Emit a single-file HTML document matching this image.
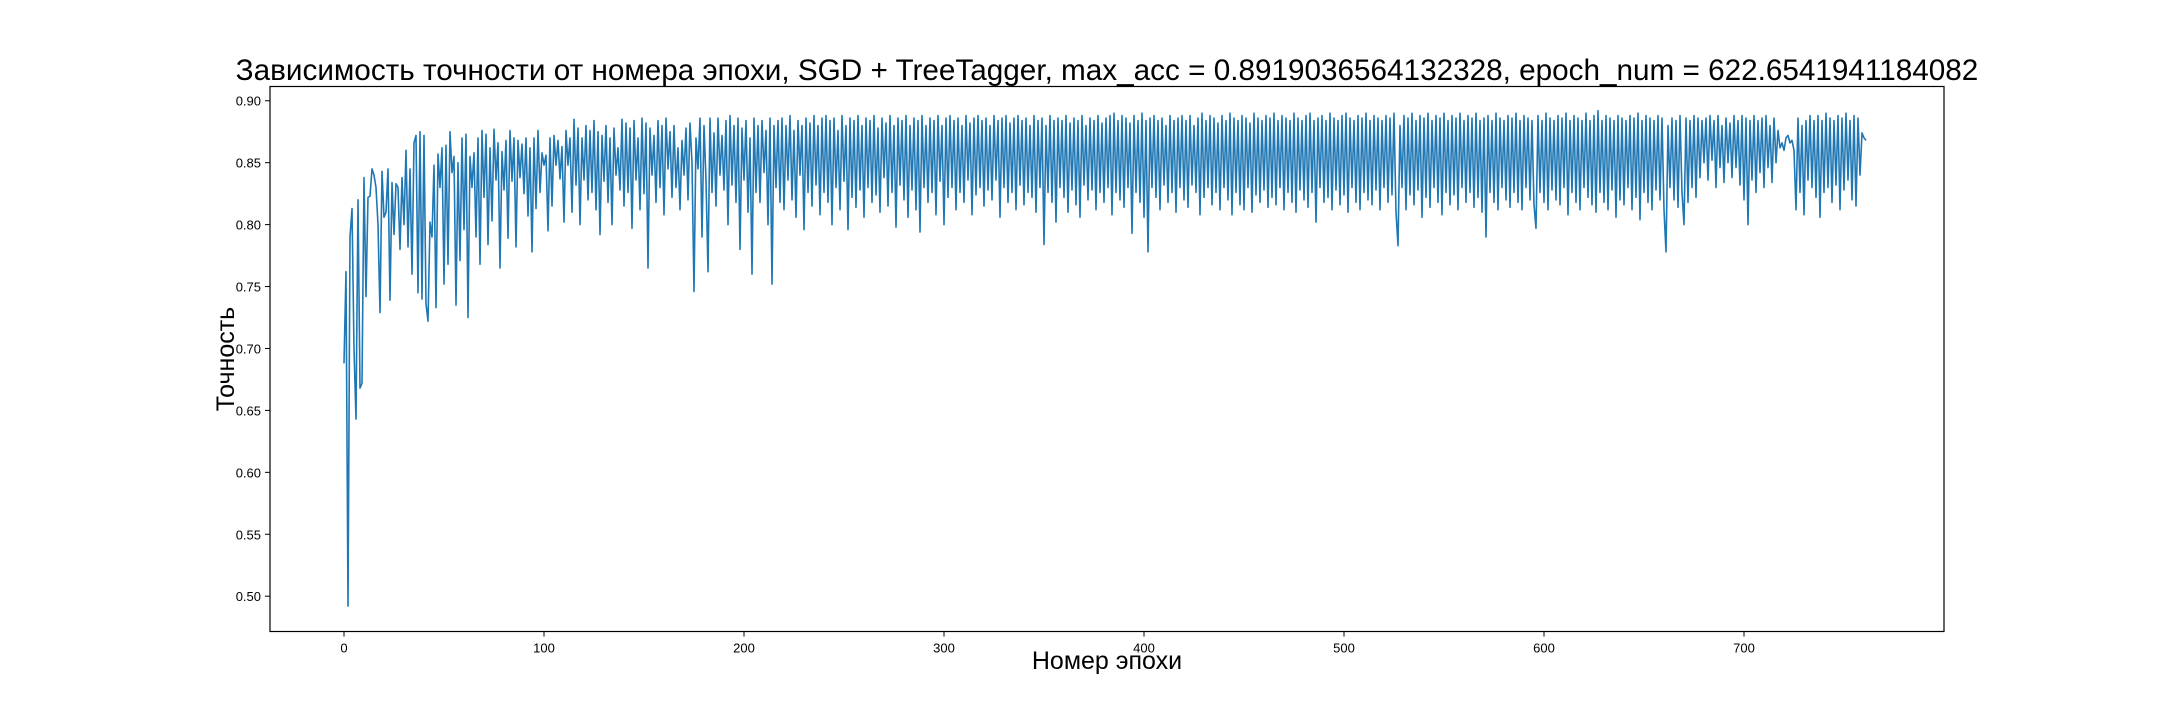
<!DOCTYPE html>
<html><head><meta charset="utf-8"><style>
body{margin:0;background:#fff;width:2160px;height:720px;overflow:hidden}
svg{font-family:"Liberation Sans","DejaVu Sans",sans-serif}
</style></head><body>
<svg id="chart" width="2160" height="720" viewBox="0 0 2160 720" xmlns="http://www.w3.org/2000/svg">
<rect width="2160" height="720" fill="#fff"/>
<text x="1107" y="80" font-size="29.7" text-anchor="middle" fill="#000">Зависимость точности от номера эпохи, SGD + TreeTagger, max_acc = 0.8919036564132328, epoch_num = 622.6541941184082</text>
<g id="plot"></g>
<rect x="270" y="86.5" width="1674" height="545" fill="none" stroke="#000" stroke-width="1.2"/>
<text x="1107" y="669" font-size="25" text-anchor="middle">Номер эпохи</text>
<text transform="translate(234,359) rotate(-90)" font-size="25" text-anchor="middle">Точность</text>
</svg>
<script>
const xTicks=[0,100,200,300,400,500,600,700];
const yTicks=[0.50,0.55,0.60,0.65,0.70,0.75,0.80,0.85,0.90];
const accRaw="688,762,492,790,813,700,643,820,668,672,838,742,822,823,845,840,830,800,729,843,806,810,845,739,834,792,833,830,780,838,800,860,782,845,760,866,872,745,875,740,872,736,722,802,790,848,733,857,830,862,752,864,768,875,842,855,735,850,771,870,796,873,725,855,830,858,790,870,768,876,822,873,784,862,803,877,836,866,765,859,828,868,789,876,835,870,782,868,838,865,825,870,807,862,778,870,813,876,826,858,848,856,795,870,815,872,848,868,837,863,802,876,848,870,810,885,832,878,800,870,836,880,820,876,826,884,812,875,792,872,835,880,818,870,800,878,840,862,828,885,815,882,826,878,797,884,836,870,812,886,825,882,765,878,840,872,818,884,830,880,808,886,845,875,822,880,830,862,812,868,840,878,820,882,850,746,870,845,886,790,880,836,762,886,826,874,815,886,840,872,828,884,800,888,832,880,818,886,780,878,836,884,810,870,760,886,826,880,818,884,842,876,800,886,752,880,830,884,818,886,812,880,836,888,820,876,806,884,840,880,796,886,826,882,815,888,832,880,808,886,826,888,818,884,800,886,830,876,812,888,835,880,796,886,822,884,814,888,828,880,806,886,830,884,818,888,824,878,810,886,838,882,815,888,826,880,798,886,832,884,820,888,806,880,828,886,812,884,794,888,830,880,818,886,826,884,808,888,835,880,800,886,822,888,830,884,812,886,826,880,818,888,836,882,808,886,824,888,830,884,815,886,828,880,820,888,836,884,806,886,830,888,818,882,826,886,812,888,832,884,816,886,826,880,822,888,810,884,830,886,784,880,826,888,818,884,802,886,830,884,822,888,810,882,828,886,816,884,806,888,832,880,820,886,828,884,812,888,826,882,818,886,830,888,808,890,826,884,820,888,814,886,830,882,793,888,826,884,818,890,806,884,778,886,830,888,822,884,812,886,832,880,818,888,826,884,810,886,830,888,820,884,814,888,832,880,826,886,808,890,822,884,830,888,816,886,826,882,812,888,830,884,820,890,808,886,826,884,816,888,812,886,830,882,810,890,824,886,818,884,828,888,814,886,822,890,816,884,830,888,812,886,826,884,818,890,810,886,828,884,820,888,814,890,826,884,802,886,830,888,818,884,822,890,812,886,828,884,816,888,824,890,810,886,830,884,818,888,812,886,826,890,820,884,816,888,828,886,812,884,830,888,818,886,824,890,810,783,880,830,888,812,886,824,890,816,884,828,888,806,886,822,890,814,884,830,888,818,886,808,890,826,884,816,888,824,886,812,890,830,884,818,888,826,886,814,890,822,884,810,886,790,888,826,884,818,890,812,886,830,884,820,888,814,886,826,890,818,884,812,888,830,886,820,884,816,797,888,826,884,818,890,812,886,828,884,820,888,816,886,830,890,808,884,826,888,818,886,812,884,830,890,822,884,816,888,810,892,826,884,818,888,812,886,828,884,806,888,820,886,816,884,830,888,812,886,822,890,804,884,826,888,818,886,812,884,828,888,820,886,812,778,880,830,886,820,884,814,888,826,800,886,818,884,830,888,822,886,838,884,850,886,836,888,852,884,830,888,846,880,834,886,850,882,838,888,846,884,832,888,820,886,800,884,836,888,826,884,842,886,830,888,846,880,834,886,850,876,862,866,860,870,872,866,868,860,812,886,826,880,808,884,836,888,830,884,822,888,806,884,826,890,830,886,818,884,832,888,812,886,828,890,836,884,820,888,815,886,840,874,870,868";
const accuracy=accRaw.split(",").map(v=>Number(v)/1000);

const X0=270,X1=1944,Y0=86.5,Y1=631.5;
const xMin=-37,xMax=800,yMin=0.4715,yMax=0.9115;
function sx(v){return X0+(v-xMin)/(xMax-xMin)*(X1-X0);}
function sy(v){return Y1-(v-yMin)/(yMax-yMin)*(Y1-Y0);}
const NS="http://www.w3.org/2000/svg";
const g=document.getElementById("plot");
xTicks.forEach(t=>{
  const l=document.createElementNS(NS,"line");
  
  
  l.setAttribute("x1",sx(t));l.setAttribute("x2",sx(t));l.setAttribute("y1",Y1);l.setAttribute("y2",Y1+5);l.setAttribute("stroke","#000");
  g.appendChild(l);
  const tx=document.createElementNS(NS,"text");
  
  
  tx.setAttribute("x",sx(t));tx.setAttribute("y",Y1+21);tx.setAttribute("font-size","13");tx.setAttribute("text-anchor","middle");
  tx.textContent=t;g.appendChild(tx);
});
yTicks.forEach(t=>{
  const l=document.createElementNS(NS,"line");
  
  
  l.setAttribute("x1",X0-5);l.setAttribute("x2",X0);l.setAttribute("y1",sy(t));l.setAttribute("y2",sy(t));l.setAttribute("stroke","#000");
  g.appendChild(l);
  const tx=document.createElementNS(NS,"text");
  
  
  tx.setAttribute("x",X0-9);tx.setAttribute("y",sy(t)+5);tx.setAttribute("font-size","13");tx.setAttribute("text-anchor","end");
  tx.textContent=t.toFixed(2);g.appendChild(tx);
});
const p=document.createElementNS(NS,"polyline");


p.setAttribute("points",accuracy.map((v,i)=>sx(i).toFixed(2)+","+sy(v).toFixed(2)).join(" "));
p.setAttribute("fill","none");p.setAttribute("stroke","#1f77b4");p.setAttribute("stroke-width","1.6");p.setAttribute("stroke-linejoin","round");
g.appendChild(p);
</script>
</body></html>
